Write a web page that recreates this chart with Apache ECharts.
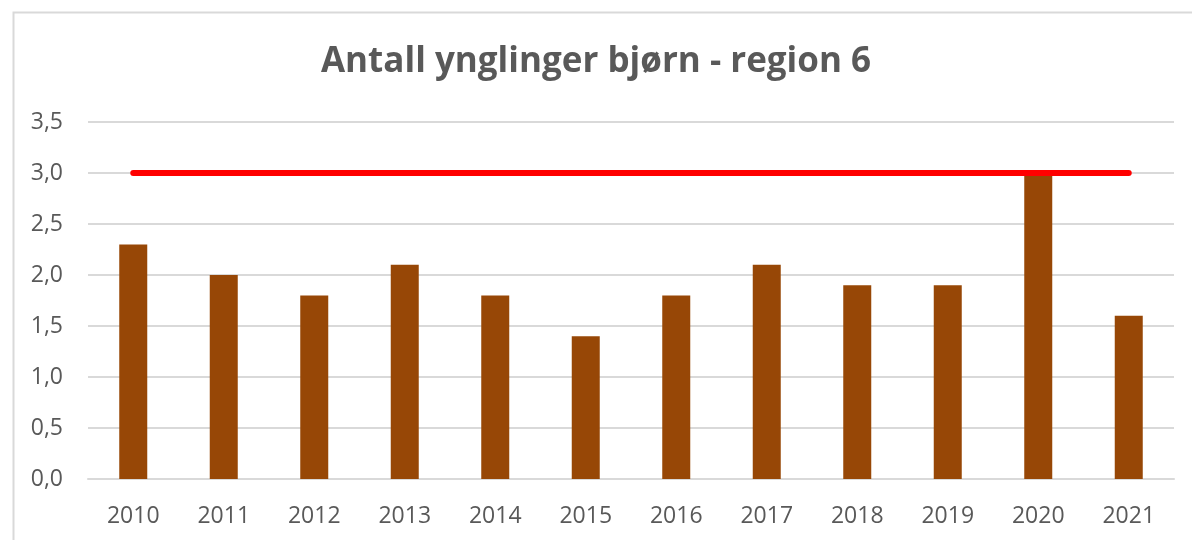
<!DOCTYPE html>
<html>
<head>
<meta charset="utf-8">
<script src="https://cdn.jsdelivr.net/npm/echarts@6/dist/echarts.min.js"></script>
<style>html,body{margin:0;padding:0;background:#fff}#c{width:1192px;height:540px}</style>
</head>
<body>
<div id="c"></div>
<script>
const categories = ['2010','2011','2012','2013','2014','2015','2016','2017','2018','2019','2020','2021'];
const ynglinger = [2.3, 2.0, 1.8, 2.1, 1.8, 1.4, 1.8, 2.1, 1.9, 1.9, 3.0, 1.6];
const maal = [3, 3, 3, 3, 3, 3, 3, 3, 3, 3, 3, 3];
const yTicks = {min: 0, max: 3.5, interval: 0.5};
const titleText = 'Antall ynglinger bjørn - region 6';

const chart = echarts.init(document.getElementById('c'), null, {renderer: 'canvas'});
chart.setOption({
  animation: false,
  backgroundColor: '#fff',
  graphic: [{
    type: 'rect', left: 11, top: 10, z: 100,
    shape: {x: 0, y: 0, width: 1200, height: 560},
    style: {fill: 'none', stroke: '#d9d9d9', lineWidth: 2}
  }],
  title: {
    text: titleText, left: 'center', top: 40,
    textStyle: {fontFamily: 'Open Sans', fontWeight: 'bold', fontSize: 35, color: '#595959'}
  },
  grid: {left: 88, right: 18, top: 122, bottom: 61, containLabel: false},
  xAxis: {
    type: 'category', data: categories,
    axisLine: {show: true, lineStyle: {color: '#d9d9d9', width: 2}},
    axisTick: {show: false},
    axisLabel: {fontFamily: 'Open Sans', fontSize: 23, color: '#595959', margin: 26}
  },
  yAxis: {
    type: 'value', min: yTicks.min, max: yTicks.max, interval: yTicks.interval,
    axisLine: {show: false}, axisTick: {show: false},
    splitLine: {lineStyle: {color: '#d9d9d9', width: 2}},
    axisLabel: {
      fontFamily: 'Open Sans', fontSize: 23, color: '#595959', margin: 25,
      formatter: v => v.toFixed(1).replace('.', ',')
    }
  },
  series: [
    {type: 'bar', data: ynglinger, barWidth: 28, itemStyle: {color: '#974706'}, z: 2},
    {type: 'line', data: maal, symbol: 'none', z: 3,
     lineStyle: {color: '#ff0000', width: 6, cap: 'round'}}
  ]
});
</script>
</body>
</html>
